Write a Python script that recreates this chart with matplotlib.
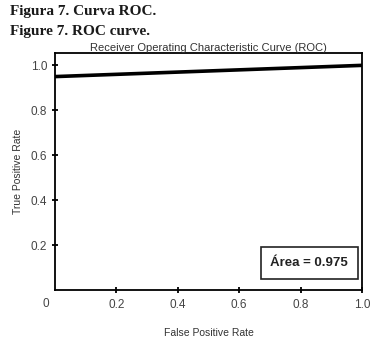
import matplotlib
matplotlib.use('Agg')
import matplotlib.pyplot as plt

# ROC curve values
fpr = [0.0, 1.0]
tpr = [0.95, 1.0]
x_ticks = [0.2, 0.4, 0.6, 0.8, 1.0]
y_ticks = [0.2, 0.4, 0.6, 0.8, 1.0]
area_label = 'Área = 0.975'

plt.rcParams['font.family'] = ['Liberation Sans', 'DejaVu Sans']

fig = plt.figure(figsize=(3.9, 3.49), dpi=100)
ax = fig.add_axes([55 / 390, 1 - 290 / 349, 307 / 390, 237 / 349])

ax.plot(fpr, tpr, color='black', linewidth=2.6, solid_capstyle='butt')

ax.set_xlim(0, 1.0)
ax.set_ylim(0, 1.055)
ax.set_xticks(x_ticks)
ax.set_yticks(y_ticks)
ax.set_xticklabels(['0.2', '0.4', '0.6', '0.8', '1.0'])
ax.set_yticklabels(['0.2', '0.4', '0.6', '0.8', '1.0'])
ax.tick_params(direction='inout', length=5, width=1.3, colors='black',
               labelcolor='#444444', labelsize=8.5, pad=3)
ax.tick_params(axis='x', pad=4)
for s in ax.spines.values():
    s.set_linewidth(1.3)

ax.text(-0.02, -0.035, '0', transform=ax.transAxes, ha='right', va='top',
        fontsize=8.5, color='#444444')

ax.set_xlabel('False Positive Rate', fontsize=7.5, color='#333333', labelpad=12)
ax.set_ylabel('True Positive Rate', fontsize=7.5, color='#333333', labelpad=6)
ax.set_title('Receiver Operating Characteristic Curve (ROC)', fontsize=8,
             color='#333333', pad=1.5)

ax.text(0.955, 0.114, area_label, transform=ax.transAxes, ha='right', va='center',
        fontsize=9.5, fontweight='bold', color='#222222',
        bbox=dict(boxstyle='square,pad=0.75', facecolor='white', edgecolor='#222222',
                  linewidth=1.2))

fig.text(10 / 390, 1 - 12 / 349, 'Figura 7. Curva ROC.', family='Liberation Serif',
         fontsize=11, fontweight='bold', va='center', color='#1a1a1a')
fig.text(10 / 390, 1 - 32 / 349, 'Figure 7. ROC curve.', family='Liberation Serif',
         fontsize=11, fontweight='bold', va='center', color='#1a1a1a')

fig.savefig('out.png', dpi=100)
